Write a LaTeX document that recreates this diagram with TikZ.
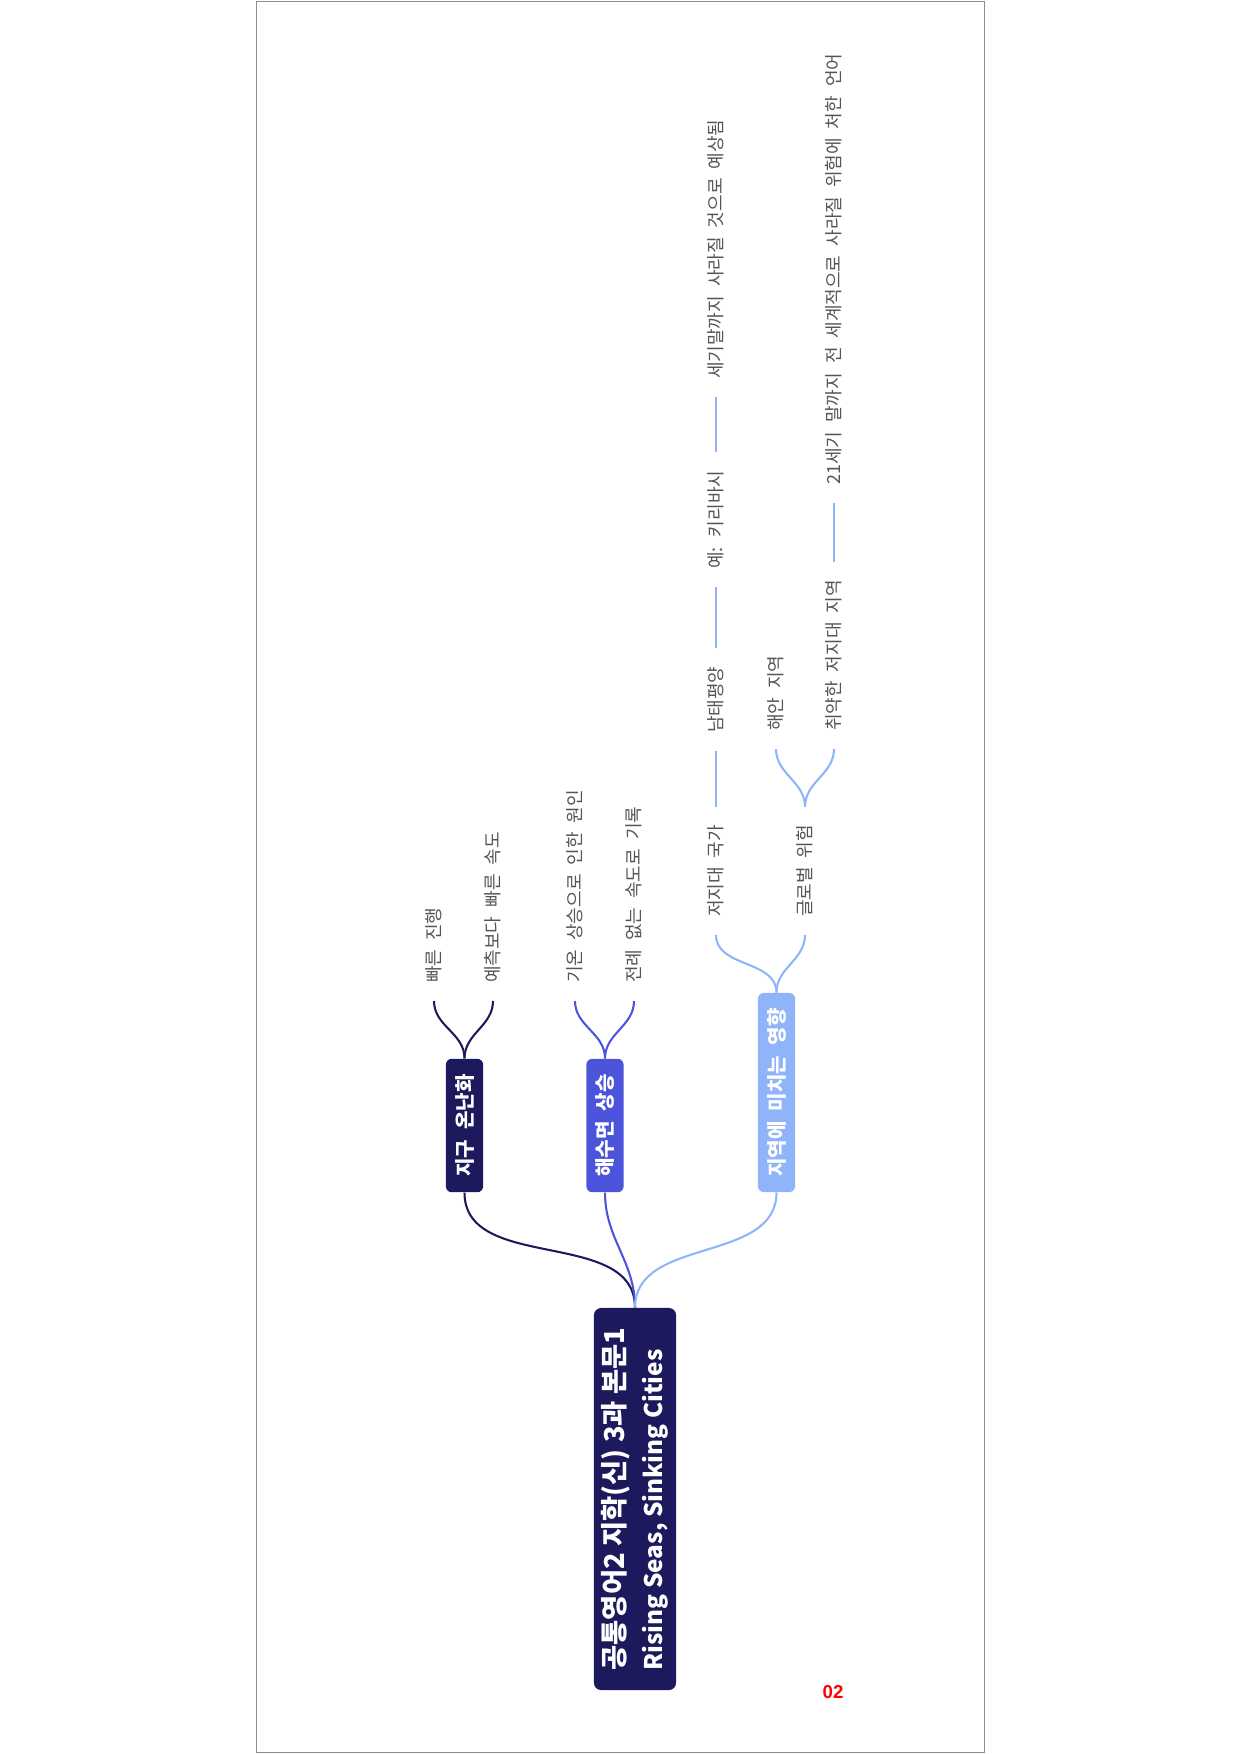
\documentclass[tikz,border=0pt]{standalone}
\usepackage{fontspec}
\setmainfont[WordSpace=2.2]{Noto Sans CJK KR}
\newfontfamily\titlefont{Noto Sans CJK KR}
\newfontfamily\pagenumfont{Liberation Sans}
\usepackage{tikz}
\pgfdeclarelayer{edgelayer}
\pgfdeclarelayer{nodelayer}
\pgfsetlayers{edgelayer,nodelayer,main}
\definecolor{navy}{RGB}{28,26,92}
\definecolor{seablue}{RGB}{76,84,219}
\definecolor{skyblue}{RGB}{143,180,250}
\definecolor{leafgrey}{RGB}{85,85,85}
\definecolor{framegrey}{RGB}{140,140,140}
\tikzstyle{rootnode}=[rectangle,rounded corners=1.2mm,fill=navy,text=white,rotate=90,align=left,font={\titlefont\fontsize{13.2}{18.3}\selectfont\bfseries},minimum width=64.7mm,minimum height=13.9mm,inner sep=0pt]
\tikzstyle{branchnode}=[rectangle,rounded corners=1mm,text=white,rotate=90,font={\fontsize{9.7}{12}\selectfont\bfseries},minimum height=6.3mm,inner xsep=2.6mm,inner ysep=0pt]
\tikzstyle{warmnode}=[branchnode,fill=navy]
\tikzstyle{seanode}=[branchnode,fill=seablue]
\tikzstyle{regionnode}=[branchnode,fill=skyblue]
\tikzstyle{leafnode}=[rotate=90,anchor=west,text=leafgrey,font={\fontsize{8.7}{10}\selectfont},inner xsep=3mm,inner ysep=1mm]
\tikzstyle{warmedge}=[draw=navy,line width=0.35mm]
\tikzstyle{seaedge}=[draw=seablue,line width=0.35mm]
\tikzstyle{regionedge}=[draw=skyblue,line width=0.35mm]

\begin{document}
\begin{tikzpicture}[x=0.16935mm,y=0.16935mm]
	\useasboundingbox (0,0) rectangle (1240,-1754);
	\draw [framegrey] (256,-1.5) rectangle (984,-1752.5);
	\begin{pgfonlayer}{nodelayer}
		\node [style=rootnode] (0) at (635, -1499) {공통영어2 지학(신) 3과 본문1\\{\fontsize{11.7}{18.3}\selectfont Rising Seas, Sinking Cities}};
		\node [style=warmnode] (1) at (464.5, -1125.5) {지구 온난화};
		\node [style=seanode] (2) at (605, -1125.5) {해수면 상승};
		\node [style=regionnode] (3) at (776.5, -1092.5) {지역에 미치는 영향};
		\node [style=leafnode] (4) at (434, -1001) {빠른 진행};
		\node [style=leafnode] (5) at (493, -1001) {예측보다 빠른 속도};
		\node [style=leafnode] (6) at (575, -1001) {기온 상승으로 인한 원인};
		\node [style=leafnode] (7) at (634, -1001) {전례 없는 속도로 기록};
		\node [style=leafnode] (8) at (716, -935) {저지대 국가};
		\node [style=leafnode] (9) at (716, -751) {남태평양};
		\node [style=leafnode] (10) at (716, -587) {예: 키리바시};
		\node [style=leafnode] (11) at (716, -397) {세기말까지 사라질 것으로 예상됨};
		\node [style=leafnode] (12) at (805, -935) {글로벌 위험};
		\node [style=leafnode] (13) at (776, -749) {해안 지역};
		\node [style=leafnode] (14) at (834, -749) {취약한 저지대 지역};
		\node [style=leafnode] (15) at (834, -503) {21세기 말까지 전 세계적으로 사라질 위험에 처한 언어};
		\node [text=red, font={\pagenumfont\bfseries\fontsize{9}{9}\selectfont}] (16) at (833, -1692) {02};
	\end{pgfonlayer}
	\begin{pgfonlayer}{edgelayer}
		\draw [style=warmedge, out=90, in=-90] (0.east) to (1.west);
		\draw [style=seaedge, out=90, in=-90] (0.east) to (2.west);
		\draw [style=regionedge, out=90, in=-90] (0.east) to (3.west);
		\draw [style=warmedge, out=90, in=-90] (1.east) to (4.west);
		\draw [style=warmedge, out=90, in=-90] (1.east) to (5.west);
		\draw [style=seaedge, out=90, in=-90] (2.east) to (6.west);
		\draw [style=seaedge, out=90, in=-90] (2.east) to (7.west);
		\draw [style=regionedge, out=90, in=-90] (3.east) to (8.west);
		\draw [style=regionedge, out=90, in=-90] (3.east) to (12.west);
		\draw [style=regionedge] (8.east) to (9.west);
		\draw [style=regionedge] (9.east) to (10.west);
		\draw [style=regionedge] (10.east) to (11.west);
		\draw [style=regionedge, out=90, in=-90] (12.east) to (13.west);
		\draw [style=regionedge, out=90, in=-90] (12.east) to (14.west);
		\draw [style=regionedge] (14.east) to (15.west);
	\end{pgfonlayer}
\end{tikzpicture}
\end{document}
